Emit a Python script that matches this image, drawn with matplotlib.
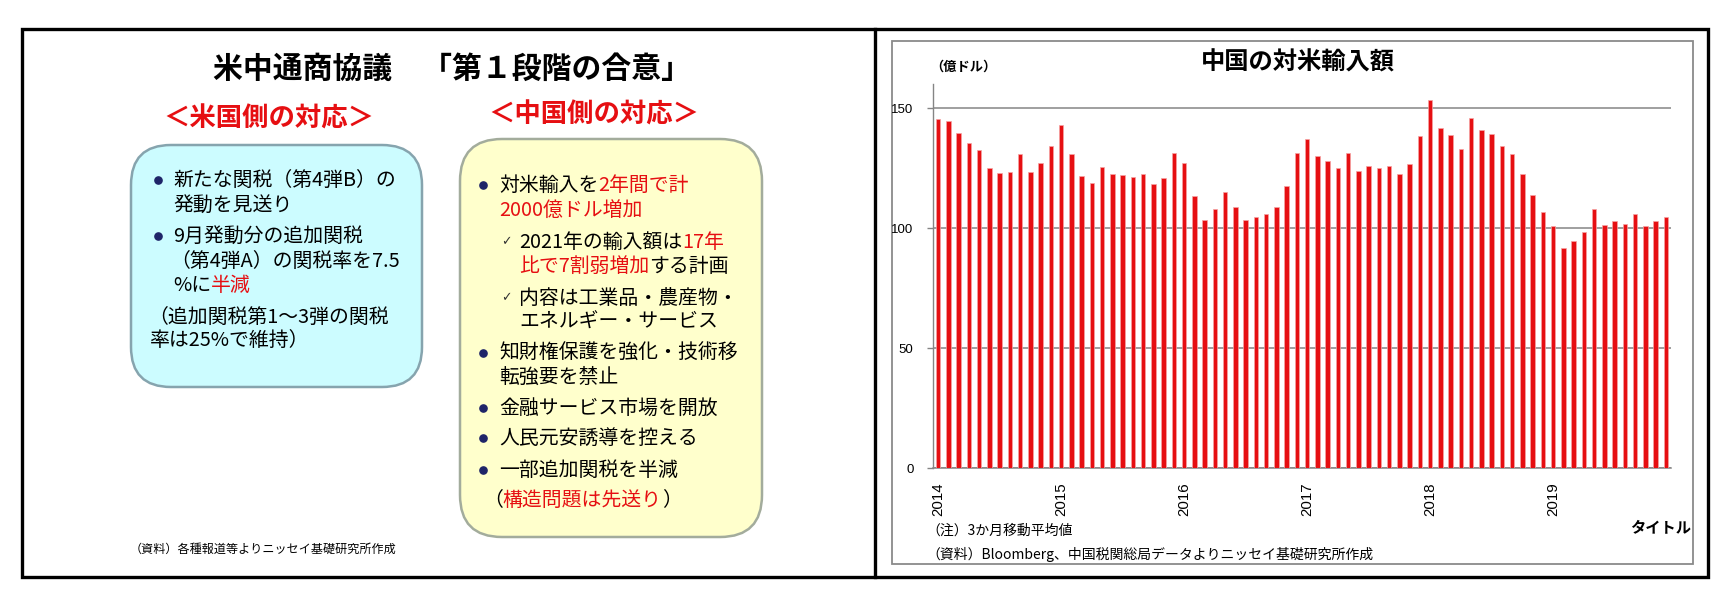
import matplotlib
matplotlib.use("Agg")
import matplotlib.pyplot as plt
from matplotlib.patches import FancyBboxPatch, Rectangle
import numpy as np

FAM = ['Noto Sans CJK JP', 'DejaVu Sans']
plt.rcParams['font.family'] = FAM

# ---------------- data ----------------
months = [f"{y}-{m:02d}" for y in range(2014, 2020) for m in range(1, 13)]
imports_from_us = [
    145.6, 144.9, 139.9, 135.4, 132.6, 125.1, 123.1, 123.5, 131.0, 123.5, 127.2, 134.4,
    143.2, 131.0, 121.7, 118.7, 125.4, 122.7, 122.1, 121.4, 122.5, 118.3, 121.0, 131.5,
    127.2, 113.5, 103.6, 108.1, 115.1, 108.8, 103.3, 104.9, 106.0, 109.0, 117.6, 131.5,
    137.4, 130.0, 128.2, 125.1, 131.5, 124.0, 125.8, 125.1, 126.1, 122.8, 126.9, 138.5,
    153.5, 141.9, 138.8, 133.1, 145.8, 140.8, 139.2, 134.4, 131.0, 122.5, 113.9, 106.7,
    100.8, 91.9, 94.7, 98.5, 108.1, 101.5, 103.2, 101.8, 106.0, 100.8, 102.9, 104.9,
]
year_labels = ['2014', '2015', '2016', '2017', '2018', '2019']
y_ticks = [0, 50, 100, 150]

W, H = 1729, 598
fig = plt.figure(figsize=(W / 100, H / 100), dpi=100)
bg = fig.add_axes([0, 0, 1, 1])
bg.set_xlim(0, W)
bg.set_ylim(H, 0)
bg.axis('off')

RED = '#E60F12'
NAVY = '#1E2468'

# outer frames
bg.add_patch(Rectangle((22, 29), 1708 - 22, 577 - 29, fill=False, ec='black', lw=2.4, zorder=1))
bg.plot([875, 875], [29, 577], color='black', lw=2.4, zorder=1)

# ---------------- left panel ----------------
bg.text(452, 69, '米中通商協議　「第１段階の合意」', ha='center', va='center',
        fontsize=21.5, fontweight='bold', color='black')
bg.text(269, 119, '＜米国側の対応＞', ha='center', va='center', fontsize=19,
        fontweight='bold', color=RED)
bg.text(594, 115, '＜中国側の対応＞', ha='center', va='center', fontsize=19,
        fontweight='bold', color=RED)

bg.add_patch(FancyBboxPatch((131, 145), 422 - 131, 387 - 145,
                            boxstyle="round,pad=0,rounding_size=40",
                            fc='#CCFCFF', ec='#86A4AE', lw=1.8, zorder=2))
bg.add_patch(FancyBboxPatch((460, 139), 762 - 460, 537 - 139,
                            boxstyle="round,pad=0,rounding_size=42",
                            fc='#FFFFCC', ec='#A3AC9C', lw=1.8, zorder=2))

FS = 14.3


def seg_line(x, y, segments, fs=FS):
    t = bg.text(x, y, segments[0][0], color=segments[0][1], fontsize=fs,
                ha='left', va='center', zorder=4)
    for s, c in segments[1:]:
        t = bg.annotate(s, xycoords=t, xy=(1, 0.5), ha='left', va='center',
                        color=c, fontsize=fs, zorder=4)
    return t


def bullet(x, y):
    bg.plot([x], [y], marker='o', ms=5.2, color=NAVY, zorder=4)


def check(x, y):
    bg.text(x, y, '✓', ha='center', va='center', fontsize=9, color='#333333',
            family=['DejaVu Sans'], zorder=4)


K = 'black'
# blue box
bullet(158, 180); seg_line(173, 180, [('新たな関税（第4弾B）の', K)])
seg_line(173, 205, [('発動を見送り', K)])
bullet(158, 236); seg_line(173, 236, [('9月発動分の追加関税', K)])
seg_line(170, 261, [('（第4弾A）の関税率を7.5', K)])
seg_line(173, 285, [('%に', K), ('半減', RED)])
seg_line(148, 317, [('（追加関税第1～3弾の関税', K)])
seg_line(150, 341, [('率は25%で維持）', K)])

# yellow box
bullet(483, 185); seg_line(499, 185, [('対米輸入を', K), ('2年間で計', RED)])
seg_line(499, 210, [('2000億ドル増加', RED)])
check(506, 242); seg_line(519, 242, [('2021年の輸入額は', K), ('17年', RED)])
seg_line(519, 266, [('比で7割弱増加', RED), ('する計画', K)])
check(506, 298); seg_line(519, 298, [('内容は工業品・農産物・', K)])
seg_line(519, 322, [('エネルギー・サービス', K)])
bullet(483, 353); seg_line(499, 353, [('知財権保護を強化・技術移', K)])
seg_line(499, 377, [('転強要を禁止', K)])
bullet(483, 408); seg_line(499, 408, [('金融サービス市場を開放', K)])
bullet(483, 438); seg_line(499, 438, [('人民元安誘導を控える', K)])
bullet(483, 470); seg_line(499, 470, [('一部追加関税を半減', K)])
seg_line(483, 500, [('（', K), ('構造問題は先送り', RED), ('）', K)])

bg.text(130, 549, '（資料）各種報道等よりニッセイ基礎研究所作成', ha='left', va='center',
        fontsize=8.7, color='black')

# ---------------- right panel ----------------
bg.add_patch(Rectangle((892, 41), 1693 - 892, 564 - 41, fill=False, ec='#8A8A8A', lw=1.3, zorder=1))
bg.text(1298, 63, '中国の対米輸入額', ha='center', va='center', fontsize=17.5,
        fontweight='bold', color='black')
bg.text(930, 67, '（億ドル）', ha='left', va='center', fontsize=9.5, fontweight='bold', color='black')
bg.text(926, 531, '（注）3か月移動平均値', ha='left', va='center', fontsize=10, color='black')
bg.text(926, 554, '（資料）Bloomberg、中国税関総局データよりニッセイ基礎研究所作成',
        ha='left', va='center', fontsize=10, color='black')
bg.text(1691, 527, 'タイトル', ha='right', va='center', fontsize=11, fontweight='bold', color='black')

x0, x1 = 933 / W, 1671 / W
yb, yt = 1 - 468.3 / H, 1 - 84.3 / H
ax = fig.add_axes([x0, yb, x1 - x0, yt - yb])
ax.set_facecolor('none')
xpos = np.arange(len(months))
ax.bar(xpos, imports_from_us, width=0.42, color=RED, edgecolor='#F5A3A3',
       linewidth=0.5, zorder=3)
ax.set_xlim(-0.5, len(months) - 0.5)
ax.set_ylim(0, 160)
ax.set_yticks(y_ticks)
ax.set_yticklabels([str(v) for v in y_ticks], family=['Liberation Sans'], fontsize=9.5)
ax.yaxis.grid(True, color='#858585', lw=1.1, zorder=1)
ax.set_axisbelow(True)
ax.tick_params(axis='y', length=4, width=1, color='#858585', pad=10)
ax.set_xticks([i for i, m in enumerate(months) if m.endswith('-01')])
ax.set_xticklabels(year_labels, rotation=90, family=['Liberation Sans'], fontsize=10.8)
ax.tick_params(axis='x', length=0, pad=10)
for s in ['top', 'right']:
    ax.spines[s].set_visible(False)
ax.spines['left'].set_color('#858585')
ax.spines['bottom'].set_color('#858585')
ax.spines['left'].set_linewidth(1)
ax.spines['bottom'].set_linewidth(1.1)

fig.savefig('out.png', dpi=100)
